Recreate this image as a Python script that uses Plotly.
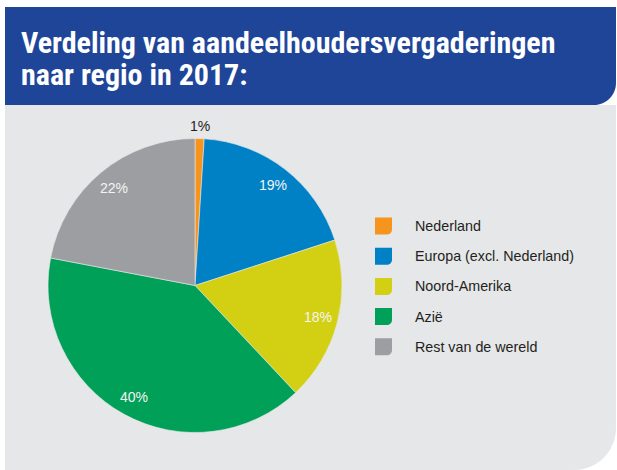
import math
import plotly.graph_objects as go

# Data
categories = ["Nederland", "Europa (excl. Nederland)", "Noord-Amerika", "Azië", "Rest van de wereld"]
values = [1, 19, 18, 40, 22]
colors = ["#F7941D", "#0081C6", "#D3D013", "#00A058", "#9D9EA1"]
title_lines = ["Verdeling van aandeelhoudersvergaderingen", "naar regio in 2017:"]

W, H = 617, 470
def px(x):
    return x / W
def py(y):
    return 1 - y / H

# pie geometry (pixels)
cx, cy, r = 195, 285.5, 147

fig = go.Figure()
fig.add_trace(go.Pie(
    labels=categories, values=values, sort=False, direction="clockwise", rotation=0,
    marker=dict(colors=colors, line=dict(color="#E6E7E9", width=0.6)),
    textinfo="none", hoverinfo="label+percent", showlegend=False,
    domain=dict(x=[px(cx - r), px(cx + r)], y=[py(cy + r), py(cy - r)]),
))

shapes = []
k = 0.5523
# blue header with rounded bottom-right corner
hx0, hy0, hx1, hy1, hr = 5, 7, 616, 105, 22
shapes.append(dict(
    type="path", xref="paper", yref="paper", layer="below",
    path=(f"M {px(hx0)},{py(hy0)} L {px(hx1)},{py(hy0)} L {px(hx1)},{py(hy1-hr)} "
          f"C {px(hx1)},{py(hy1-hr+hr*k)} {px(hx1-hr+hr*k)},{py(hy1)} {px(hx1-hr)},{py(hy1)} "
          f"L {px(hx0)},{py(hy1)} Z"),
    fillcolor="#1F4599", line=dict(width=0)))
# gray panel with rounded bottom-right corner
gx0, gy0, gx1, gy1, gr = 5, 105, 616, 470, 42
shapes.append(dict(
    type="path", xref="paper", yref="paper", layer="below",
    path=(f"M {px(gx0)},{py(gy0)} L {px(gx1)},{py(gy0)} L {px(gx1)},{py(gy1-gr)} "
          f"C {px(gx1)},{py(gy1-gr+gr*k)} {px(gx1-gr+gr*k)},{py(gy1)} {px(gx1-gr)},{py(gy1)} "
          f"L {px(gx0)},{py(gy1)} Z"),
    fillcolor="#E6E7E9", line=dict(width=0)))

annotations = []
# title
for i, line in enumerate(title_lines):
    annotations.append(dict(
        text=f"<b>{line}</b>", x=px(19), y=py(42 + 33 * i), xref="paper", yref="paper",
        xanchor="left", yanchor="middle", showarrow=False,
        font=dict(family="Roboto Condensed, Roboto, sans-serif", size=30, color="white")))

# percentage labels at slice mid-angles
total = sum(values)
cum = 0
for v in values:
    mid = (cum + v / 2) / total * 2 * math.pi
    cum += v
    if v / total < 0.05:
        rr, col = r + 13, "#231F20"
    else:
        rr, col = r * 0.865, "#F4F4F4"
    lx = cx + rr * math.sin(mid)
    ly = cy - rr * math.cos(mid)
    annotations.append(dict(
        text=f"{round(v / total * 100)}%", x=px(lx), y=py(ly), xref="paper", yref="paper",
        xanchor="center", yanchor="middle", showarrow=False,
        font=dict(family="Liberation Sans, Arial, sans-serif", size=14, color=col)))

# legend (built from categories / colors)
lx0, ly0, step, s = 375, 226, 30.2, 17
for i, (cat, col) in enumerate(zip(categories, colors)):
    yc = ly0 + step * i
    x0, x1, y0, y1 = lx0, lx0 + s, yc - s / 2, yc + s / 2
    cr = 5
    shapes.append(dict(
        type="path", xref="paper", yref="paper",
        path=(f"M {px(x0)},{py(y0)} L {px(x1)},{py(y0)} L {px(x1)},{py(y1-cr)} "
              f"C {px(x1)},{py(y1-cr+cr*k)} {px(x1-cr+cr*k)},{py(y1)} {px(x1-cr)},{py(y1)} "
              f"L {px(x0)},{py(y1)} Z"),
        fillcolor=col, line=dict(width=0)))
    annotations.append(dict(
        text=cat, x=px(413), y=py(yc), xref="paper", yref="paper",
        xanchor="left", yanchor="middle", showarrow=False,
        font=dict(family="Liberation Sans, Arial, sans-serif", size=14.3, color="#231F20")))

fig.update_layout(
    width=W, height=H, margin=dict(l=0, r=0, t=0, b=0),
    paper_bgcolor="white", plot_bgcolor="white",
    shapes=shapes, annotations=annotations, showlegend=False,
)
fig.write_html("out.html", config={"displayModeBar": False},
               post_script="document.body.style.margin='0';")
